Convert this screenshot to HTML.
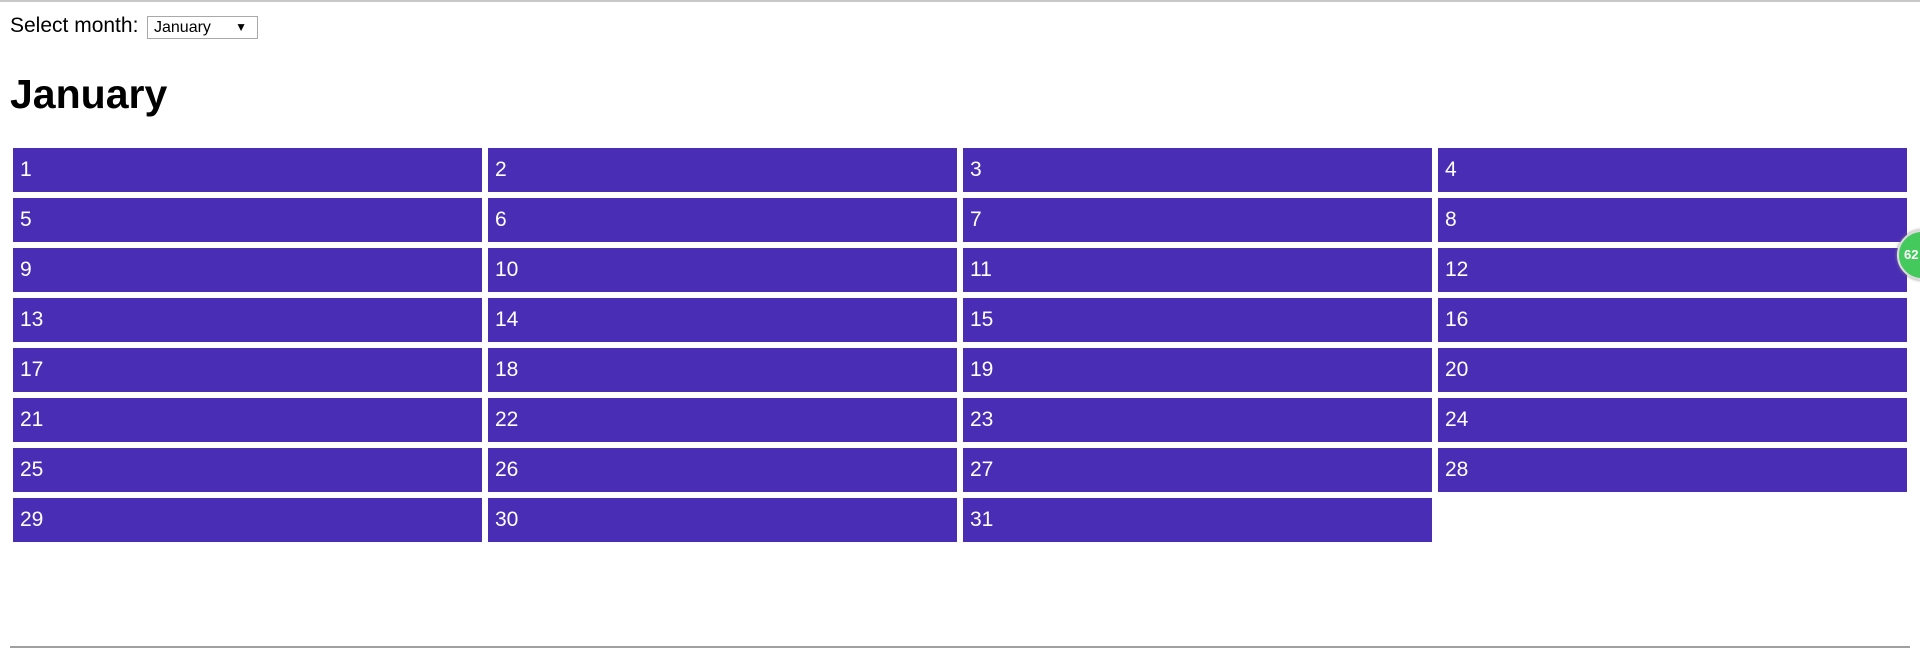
<!DOCTYPE html>
<html><head><meta charset="utf-8"><style>
body{margin:0;width:1920px;height:670px;background:#fff;position:relative;overflow:hidden;font-family:"Liberation Sans",sans-serif}
.topline{position:absolute;left:0;top:0;width:1920px;height:2px;background:#c8c8c8}
.lbl{position:absolute;left:10px;top:14px;font-size:21px;color:#000}
.sel{position:absolute;left:147px;top:16px;width:111px;height:23px;border:1px solid #a9a9a9;box-sizing:border-box;font-size:16px;line-height:21px;padding-left:6px;background:#fff}
.sel span{position:absolute;right:10px;top:0;font-size:12px}
h1{position:absolute;left:10px;top:71px;margin:0;font-size:41px;font-weight:bold}
.cell{position:absolute;width:469px;height:44px;background:#4a2db5;color:#fff;font-size:21px;line-height:44px;padding-left:7px;box-sizing:border-box}
.bottom{position:absolute;left:10px;top:646px;width:1900px;height:2px;background:#a0a0a0}
.badge{position:absolute;left:1897px;top:230px;width:50px;height:50px;border-radius:50%;background:#44c95c;border:2px solid #ddd;box-sizing:border-box;color:#fff;font-size:13px;font-weight:bold;line-height:46px;padding-left:5px;box-shadow:0 0 3px #888}
</style></head><body>
<div class="topline"></div>
<div class="lbl">Select month:</div>
<div class="sel">January<span>▼</span></div>
<h1>January</h1>
<div id="grid"></div>
<div class="bottom"></div>
<div class="badge">62</div>
<script>
const days=[];for(let d=1;d<=31;d++)days.push(d);
const g=document.getElementById('grid');
days.forEach((d,i)=>{const el=document.createElement('div');el.className='cell';
el.style.left=(13+(i%4)*475)+'px';el.style.top=(148+Math.floor(i/4)*50)+'px';el.textContent=d;


g.appendChild(el);});
</script>
</body></html>
